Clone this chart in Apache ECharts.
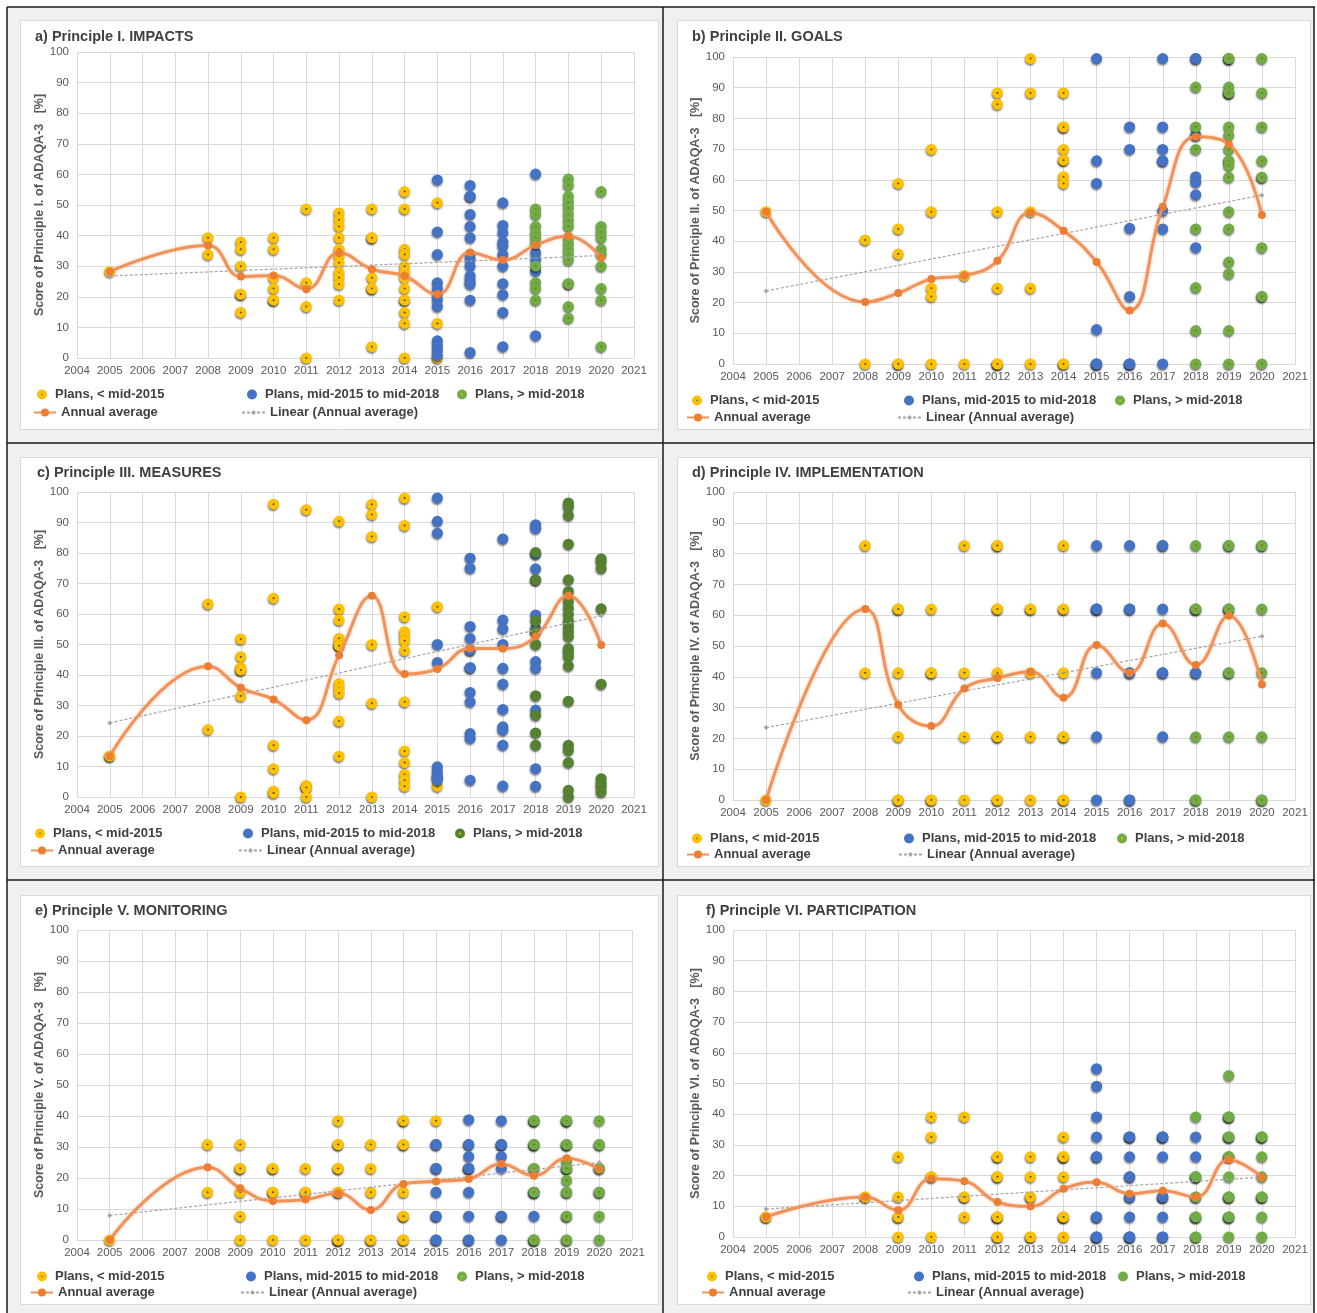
<!DOCTYPE html>
<html><head><meta charset="utf-8">
<script src="https://cdn.jsdelivr.net/npm/echarts@6/dist/echarts.min.js"></script>
<style>html,body{margin:0;padding:0;background:#fff}#c{width:1317px;height:1313px}</style>
</head><body><div id="c"></div>
<script>
// ---------- DATA ----------
const avgYears = [2005,2008,2009,2010,2011,2012,2013,2014,2015,2016,2017,2018,2019,2020];
const trendYears = [2005,2020];
const seriesNames = ['Plans, < mid-2015','Plans, mid-2015 to mid-2018','Plans, > mid-2018','Annual average','Linear (Annual average)'];

// a) IMPACTS
const aYellow = [[2005,28.2],[2008,39.3],[2008,33.8],
[2009,37.9],[2009,35.5],[2009,30],[2009,20.8],[2009,20.8],[2009,14.9],
[2010,39.3],[2010,35.5],[2010,26.2],[2010,22.7],[2010,18.9],[2010,18.9],
[2011,48.7],[2011,24.6],[2011,16.8],[2011,0],
[2012,47.4],[2012,45.2],[2012,43],[2012,39.3],[2012,35.5],[2012,33.3],[2012,31.1],[2012,27.9],[2012,26.2],[2012,24.1],[2012,18.9],
[2013,48.7],[2013,39.3],[2013,39.3],[2013,26.2],[2013,22.7],[2013,22.7],[2013,3.7],
[2014,54.4],[2014,48.7],[2014,35.5],[2014,33.8],[2014,30],[2014,27.9],[2014,26.2],[2014,22.7],[2014,18.9],[2014,18.9],[2014,14.9],[2014,11.3],[2014,0],
[2015,50.7],[2015,11.3],[2015,0]];
const aBlue = [[2015,58.2],[2015,41.2],[2015,33.8],[2015,24.6],[2015,22.7],[2015,20.8],[2015,18.9],[2015,16.8],[2015,5.6],[2015,4],[2015,2.4],[2015,0.8],
[2016,56.4],[2016,52.8],[2016,52.8],[2016,46.9],[2016,43],[2016,39.3],[2016,33.8],[2016,32.2],[2016,30],[2016,26.8],[2016,25.2],[2016,24.1],[2016,18.9],[2016,1.8],
[2017,50.7],[2017,43.3],[2017,40.9],[2017,37.9],[2017,36.6],[2017,33.8],[2017,30],[2017,24.3],[2017,20.7],[2017,14.9],[2017,3.7],
[2018,60.1],[2018,34.4],[2018,32.2],[2018,28.4],[2018,7.3]];
const aGreen = [[2018,48.7],[2018,46.9],[2018,43],[2018,40.9],[2018,39.3],[2018,37.4],[2018,30],[2018,24.6],[2018,22.7],[2018,18.9],
[2019,58.5],[2019,56.4],[2019,52.8],[2019,50.9],[2019,49],[2019,46.9],[2019,44.9],[2019,43],[2019,39.3],[2019,37.4],[2019,35.5],[2019,33.8],[2019,32],[2019,24.3],[2019,24.3],[2019,16.8],[2019,13],
[2020,54.4],[2020,43],[2020,41.2],[2020,39.3],[2020,35.5],[2020,33.8],[2020,30],[2020,22.7],[2020,18.9],[2020,3.7]];
const aAvg = [28.2,36.8,26.6,27,22.5,34.4,29,26.8,20.8,34.5,32,36.9,39.8,32.8];
const aTrend = [26.8,33.5];

// b) GOALS
const bYellow = [[2005,49.6],[2008,40.4],[2008,0],
[2009,58.8],[2009,44],[2009,35.8],[2009,0],[2009,0],
[2010,69.9],[2010,49.6],[2010,24.7],[2010,22],[2010,0],
[2011,28.8],[2011,0],
[2012,88.3],[2012,84.6],[2012,49.6],[2012,24.7],[2012,0],[2012,0],[2012,0],
[2013,99.5],[2013,88.3],[2013,49.6],[2013,24.7],[2013,0],
[2014,88.3],[2014,77.2],[2014,77.2],[2014,69.9],[2014,66.4],[2014,66.4],[2014,61],[2014,58.8],[2014,0],[2014,0]];
const bBlue = [[2015,99.5],[2015,66.2],[2015,58.8],[2015,11.2],[2015,0],[2015,0],[2015,0],
[2016,77.2],[2016,69.9],[2016,44.2],[2016,22],[2016,0],[2016,0],[2016,0],
[2017,99.5],[2017,77.2],[2017,69.9],[2017,66.2],[2017,66.2],[2017,49.9],[2017,44],[2017,0],
[2018,99.5],[2018,99.5],[2018,74.5],[2018,74.5],[2018,61],[2018,59.2],[2018,55.1],[2018,37.9]];
const bGreen = [[2018,90.2],[2018,77.2],[2018,69.9],[2018,44],[2018,24.9],[2018,10.9],[2018,0],
[2019,99.5],[2019,99.5],[2019,99.5],[2019,90.2],[2019,88.3],[2019,88.3],[2019,88.3],[2019,77.2],[2019,74.5],[2019,69.9],[2019,66.2],[2019,66.2],[2019,64.6],[2019,60.8],[2019,49.6],[2019,44],[2019,33.2],[2019,29.4],[2019,10.9],[2019,0],
[2020,99.5],[2020,88.3],[2020,77.2],[2020,66.2],[2020,60.8],[2020,60.8],[2020,37.9],[2020,22],[2020,22],[2020,0]];
const bAvg = [49.6,20.2,23.1,27.7,28.8,33.6,49.3,43.4,33.2,17.4,51.2,74,71.6,48.5];
const bTrend = [23.8,55];

// c) MEASURES
const cYellow = [[2005,13.4],[2005,13.4],[2008,63.3],[2008,22.1],
[2009,51.8],[2009,46],[2009,42.4],[2009,41.6],[2009,41.6],[2009,33.1],[2009,0],
[2010,96],[2010,65.2],[2010,17],[2010,9.3],[2010,1.9],[2010,1.3],
[2011,94.2],[2011,3.8],[2011,3.1],[2011,3.1],[2011,0],
[2012,90.4],[2012,61.6],[2012,58],[2012,52],[2012,50],[2012,49.6],[2012,49.6],[2012,37.2],[2012,35.6],[2012,34],[2012,24.9],[2012,13.4],
[2013,96],[2013,92.6],[2013,85.4],[2013,50],[2013,30.7],[2013,0],
[2014,98],[2014,89],[2014,59.1],[2014,54.2],[2014,52.8],[2014,51.2],[2014,48],[2014,31.2],[2014,15.1],[2014,11.3],[2014,7.4],[2014,5.5],[2014,3.5],
[2015,62.4],[2015,3.5]];
const cBlue = [[2015,98],[2015,90.4],[2015,86.5],[2015,50],[2015,44.1],[2015,9.9],[2015,8.2],[2015,6.6],[2015,6.6],[2015,5.5],
[2016,78.3],[2016,75],[2016,55.9],[2016,52],[2016,48.2],[2016,48.2],[2016,42.4],[2016,42.4],[2016,34.3],[2016,31.2],[2016,20.8],[2016,19.2],[2016,5.5],
[2017,84.6],[2017,58],[2017,55.1],[2017,50],[2017,42.2],[2017,37],[2017,28.7],[2017,23],[2017,21.9],[2017,17],[2017,3.6],
[2018,89.3],[2018,88],[2018,79.6],[2018,74.8],[2018,59.7],[2018,55.3],[2018,44.4],[2018,42.2],[2018,28.5],[2018,9.3],[2018,3.5]];
const cGreen = [[2018,80.2],[2018,71.2],[2018,71.2],[2018,57.8],[2018,54.2],[2018,54.2],[2018,50],[2018,33.2],[2018,26.8],[2018,21],[2018,17],
[2019,96.4],[2019,95],[2019,92.3],[2019,82.9],[2019,71.2],[2019,67.4],[2019,64.1],[2019,61.9],[2019,59.9],[2019,57.8],[2019,55.9],[2019,54.2],[2019,52.6],[2019,48.7],[2019,47.6],[2019,46],[2019,43],[2019,31.4],[2019,17],[2019,15.3],[2019,11.3],[2019,2.2],[2019,0],
[2020,78.1],[2020,77.2],[2020,75],[2020,61.7],[2020,37],[2020,6],[2020,4.4],[2020,3.3],[2020,1.6]];
const cAvg = [13.4,42.9,35.8,32,25.2,46.5,66,40.3,42,48.7,48.7,52.6,66,49.8];
const cTrend = [24.3,59.4];

// d) IMPLEMENTATION
const dYellow = [[2005,0],[2008,82.6],[2008,41.3],
[2009,62],[2009,62],[2009,41.3],[2009,20.5],[2009,0],[2009,0],
[2010,62],[2010,41.3],[2010,41.3],[2010,0],[2010,0],
[2011,82.6],[2011,41.3],[2011,20.5],[2011,0],
[2012,82.6],[2012,82.6],[2012,62],[2012,62],[2012,41.3],[2012,20.5],[2012,20.5],[2012,0],[2012,0],
[2013,62],[2013,62],[2013,41.3],[2013,20.5],[2013,0],
[2014,82.6],[2014,62],[2014,62],[2014,41.3],[2014,20.5],[2014,20.5],[2014,0],[2014,0]];
const dBlue = [[2015,82.6],[2015,62],[2015,62],[2015,62],[2015,41.3],[2015,20.5],[2015,0],
[2016,82.6],[2016,62],[2016,62],[2016,41.3],[2016,41.3],[2016,0],[2016,0],
[2017,82.6],[2017,82.6],[2017,62],[2017,41.3],[2017,41.3],[2017,20.5],
[2018,41.3],[2018,41.3]];
const dGreen = [[2018,82.6],[2018,62],[2018,62],[2018,62],[2018,20.5],[2018,0],[2018,0],
[2019,82.6],[2019,82.6],[2019,62],[2019,62],[2019,62],[2019,41.3],[2019,41.3],[2019,20.5],
[2020,82.6],[2020,82.6],[2020,62],[2020,41.3],[2020,20.5],[2020,0],[2020,0]];
const dAvg = [0,62,30.9,24,36.2,39.6,41.6,33.2,50.3,41.3,57.3,43.8,59.8,37.5];
const dTrend = [23.5,53.2];

// e) MONITORING
const eYellow = [[2005,0],[2008,30.8],[2008,15.4],
[2009,30.8],[2009,23.1],[2009,23.1],[2009,15.4],[2009,7.7],[2009,0],
[2010,23.1],[2010,23.1],[2010,15.4],[2010,15.4],[2010,0],
[2011,23.1],[2011,15.4],[2011,15.4],[2011,0],
[2012,38.5],[2012,30.8],[2012,30.8],[2012,23.1],[2012,23.1],[2012,15.4],[2012,15.4],[2012,0],[2012,0],[2012,0],
[2013,30.8],[2013,23.1],[2013,15.4],[2013,0],[2013,0],
[2014,38.5],[2014,38.5],[2014,30.8],[2014,30.8],[2014,15.4],[2014,7.7],[2014,7.7],[2014,0],[2014,0],
[2015,38.5]];
const eBlue = [[2015,30.8],[2015,30.8],[2015,23.1],[2015,23.1],[2015,15.4],[2015,7.7],[2015,7.7],[2015,0],[2015,0],
[2016,38.8],[2016,30.8],[2016,30.8],[2016,26.9],[2016,23.1],[2016,23.1],[2016,23.1],[2016,15.4],[2016,7.7],[2016,0],[2016,0],
[2017,38.5],[2017,30.8],[2017,30.8],[2017,30.8],[2017,26.9],[2017,23.1],[2017,7.7],[2017,7.7],[2017,0],
[2018,15.4],[2018,15.4],[2018,7.7]];
const eGreen = [[2018,38.5],[2018,38.5],[2018,38.5],[2018,30.8],[2018,30.8],[2018,30.8],[2018,23.1],[2018,23.1],[2018,15.4],[2018,0],[2018,0],[2018,0],
[2019,38.5],[2019,38.5],[2019,38.5],[2019,30.8],[2019,30.8],[2019,30.8],[2019,25.4],[2019,23.1],[2019,23.1],[2019,23.1],[2019,19.2],[2019,15.4],[2019,15.4],[2019,7.7],[2019,7.7],[2019,0],[2019,0],
[2020,38.5],[2020,30.8],[2020,30.8],[2020,23.1],[2020,23.1],[2020,15.4],[2020,15.4],[2020,7.7],[2020,0]];
const eAvg = [0,23.5,16.7,12.6,13.1,15.1,9.7,18.1,18.9,19.7,24.5,20.7,26.4,22.8];
const eTrend = [7.9,25];

// f) PARTICIPATION
const fYellow = [[2005,6.5],[2005,6.5],[2008,13],[2008,13],
[2009,26.1],[2009,13],[2009,6.5],[2009,6.5],[2009,0],
[2010,39.1],[2010,32.6],[2010,19.6],[2010,19.6],[2010,0],
[2011,39.1],[2011,13],[2011,13],[2011,6.5],
[2012,26.1],[2012,26.1],[2012,19.6],[2012,19.6],[2012,6.5],[2012,6.5],[2012,6.5],[2012,0],[2012,0],
[2013,26.1],[2013,19.6],[2013,13],[2013,13],[2013,0],[2013,0],
[2014,32.6],[2014,26.1],[2014,26.1],[2014,26.1],[2014,19.6],[2014,6.5],[2014,6.5],[2014,6.5],[2014,0]];
const fBlue = [[2015,54.8],[2015,49.1],[2015,39.1],[2015,32.6],[2015,26.1],[2015,26.1],[2015,6.5],[2015,6.5],[2015,0],[2015,0],[2015,0],
[2016,32.6],[2016,32.6],[2016,32.6],[2016,26.1],[2016,19.6],[2016,19.6],[2016,13],[2016,13],[2016,6.5],[2016,0],[2016,0],[2016,0],
[2017,32.6],[2017,32.6],[2017,32.6],[2017,26.1],[2017,13],[2017,13],[2017,13],[2017,6.5],[2017,0],[2017,0],
[2018,32.6],[2018,26.1]];
const fGreen = [[2018,39.1],[2018,19.6],[2018,19.6],[2018,19.6],[2018,13],[2018,13],[2018,6.5],[2018,6.5],[2018,6.5],[2018,0],[2018,0],
[2019,52.6],[2019,39.1],[2019,39.1],[2019,39.1],[2019,32.6],[2019,32.6],[2019,32.6],[2019,26.1],[2019,26.1],[2019,26.1],[2019,19.6],[2019,13],[2019,13],[2019,13],[2019,6.5],[2019,6.5],[2019,6.5],[2019,0],
[2020,32.6],[2020,32.6],[2020,32.6],[2020,26.1],[2020,19.6],[2020,13],[2020,13],[2020,13],[2020,6.5],[2020,0]];
const fAvg = [6.5,13,8.7,19,18.2,11.4,10,15.7,17.8,14.1,15.1,13,25.2,19.5];
const fTrend = [9.1,19.5];

// ---------- LAYOUT ----------
const FONT = '"Liberation Sans", Arial, sans-serif';
const YELLOW = '#ffc000', BLUE = '#4472c4', GREEN = '#70ad47', ORANGE = '#ed7d31';
const panels = [
 {key:'a', title:'a) Principle I. IMPACTS', yName:'Score of Principle I. of ADAQA-3   [%]',
  data:[aYellow,aBlue,aGreen,aAvg,aTrend], grid:{left:77,top:52,width:557,height:306}, tPos:[35,29],
  r1:[393,44,254,464], r2:[411,33,241], green:GREEN, greenDot:true},
 {key:'b', title:'b) Principle II. GOALS', yName:'Score of Principle II. of ADAQA-3   [%]',
  data:[bYellow,bBlue,bGreen,bAvg,bTrend], grid:{left:733,top:57,width:562,height:307}, tPos:[692,29],
  r1:[399,699,911,1122], r2:[416,686,897], green:GREEN, greenDot:true},
 {key:'c', title:'c) Principle III. MEASURES', yName:'Score of Principle III. of ADAQA-3   [%]',
  data:[cYellow,cBlue,cGreen,cAvg,cTrend], grid:{left:77,top:492,width:557,height:305}, tPos:[37,465],
  r1:[832,42,250,462], r2:[849,30,238], green:'#548235', greenDot:true},
 {key:'d', title:'d) Principle IV. IMPLEMENTATION', yName:'Score of Principle IV. of ADAQA-3   [%]',
  data:[dYellow,dBlue,dGreen,dAvg,dTrend], grid:{left:733,top:492,width:562,height:308}, tPos:[692,465],
  r1:[837,699,911,1124], r2:[853,686,898], green:GREEN, greenDot:true},
 {key:'e', title:'e) Principle V. MONITORING', yName:'Score of Principle V. of ADAQA-3   [%]',
  data:[eYellow,eBlue,eGreen,eAvg,eTrend], grid:{left:77,top:930,width:555,height:310}, tPos:[35,903],
  r1:[1275,44,253,464], r2:[1291,30,240], green:GREEN, greenDot:true},
 {key:'f', title:'f) Principle VI. PARTICIPATION', yName:'Score of Principle VI. of ADAQA-3   [%]',
  data:[fYellow,fBlue,fGreen,fAvg,fTrend], grid:{left:733,top:930,width:562,height:307}, tPos:[706,903],
  r1:[1275,714,921,1125], r2:[1291,701,907], green:GREEN, greenDot:false}
];

const shadow = {opacity:1, shadowColor:'rgba(0,0,0,0.5)', shadowBlur:2, shadowOffsetX:-0.5, shadowOffsetY:1.5};
const option = {animation:false, textStyle:{fontFamily:FONT},
  title:[], grid:[], xAxis:[], yAxis:[], series:[], legend:[], graphic:[]};

// background frame & cards
const g = [];
g.push({type:'rect', z:-100, shape:{x:7,y:7,width:1308,height:1306}, style:{fill:'#f0f0f0'}});
[[20,20],[677,20],[20,457],[677,457],[20,895],[677,895]].forEach(p=>{
  g.push({type:'rect', z:-99, shape:{x:p[0]+0.5,y:p[1]+0.5,width:(p[0]<600?638:633),height:409}, style:{fill:'#fff',stroke:'#d9d9d9',lineWidth:1}});
});
const ln = (x1,y1,x2,y2)=>({type:'line', z:-98, shape:{x1,y1,x2,y2}, style:{stroke:'#1a1a1a',lineWidth:1.5}});
g.push(ln(7,7,1315,7), ln(7,7,7,1313), ln(1314,7,1314,1313), ln(663,7,663,1313), ln(7,443,1315,443), ln(7,880,1315,880));
option.graphic = g;

const fmt = n => n.split('|')[1];
panels.forEach((p,i)=>{
  const [yel, blu, grn, avg, trend] = p.data;
  option.title.push({text:p.title, left:p.tPos[0], top:p.tPos[1], padding:0,
    textStyle:{fontFamily:FONT, fontSize:14.5, fontWeight:'bold', color:'#404040'}});
  option.grid.push(p.grid);
  option.xAxis.push({type:'value', gridIndex:i, min:2004, max:2021, interval:1,
    axisLine:{show:true, lineStyle:{color:'#d9d9d9'}}, axisTick:{show:false},
    splitLine:{show:true, lineStyle:{color:'#d9d9d9', width:1}},
    axisLabel:{color:'#595959', fontSize:11.5, margin:7, formatter:v=>String(v)}});
  option.yAxis.push({type:'value', gridIndex:i, min:0, max:100, interval:10,
    name:p.yName, nameLocation:'middle', nameGap:30, nameRotate:90,
    nameTextStyle:{color:'#595959', fontSize:12.5, fontWeight:'bold', fontFamily:FONT},
    axisLine:{show:false}, axisTick:{show:false},
    splitLine:{show:true, lineStyle:{color:'#d9d9d9', width:1}},
    axisLabel:{color:'#595959', fontSize:11.5, margin:8}});
  const nm = seriesNames.map(s=>p.key+'|'+s);
  const greenStyle = p.greenDot ? {color:YELLOW, borderColor:p.green, borderWidth:4.5, ...shadow}
                                : {color:p.green, borderWidth:0, ...shadow};
  option.series.push(
    {type:'scatter', name:nm[0], xAxisIndex:i, yAxisIndex:i, data:yel, symbolSize:6.5,
     itemStyle:{color:'#5a9e32', borderColor:YELLOW, borderWidth:4.5, ...shadow}, z:2},
    {type:'scatter', name:nm[1], xAxisIndex:i, yAxisIndex:i, data:blu, symbolSize:11,
     itemStyle:{color:BLUE, borderWidth:0, ...shadow}, z:2},
    {type:'scatter', name:nm[2], xAxisIndex:i, yAxisIndex:i, data:grn, symbolSize:p.greenDot?6.5:11,
     itemStyle:greenStyle, z:2},
    {type:'line', name:nm[3], xAxisIndex:i, yAxisIndex:i, data:avgYears.map((y,k)=>[y,avg[k]]),
     smooth:0.45, symbol:'circle', symbolSize:8, itemStyle:{color:ORANGE},
     lineStyle:{color:'#f0925a', width:3, shadowColor:'rgba(237,125,49,0.5)', shadowBlur:3}, z:4},
    {type:'line', name:nm[4], xAxisIndex:i, yAxisIndex:i, data:trendYears.map((y,k)=>[y,trend[k]]),
     symbol:'diamond', symbolSize:5, itemStyle:{color:'#a5a5a5'},
     lineStyle:{color:'#a5a5a5', width:1.2, type:[3,2]}, z:3}
  );
  const lt = {fontFamily:FONT, fontSize:13, fontWeight:'bold', color:'#404040'};
  const base = {padding:0, formatter:fmt, textStyle:lt, selectedMode:false};
  option.legend.push(
    {...base, data:[nm[0]], left:p.r1[1]-7, top:p.r1[0]-5, itemWidth:16, itemHeight:6,
     itemStyle:{color:'#5a9e32', borderColor:YELLOW, borderWidth:4, opacity:1}},
    {...base, data:[nm[1]], left:p.r1[2]-7, top:p.r1[0]-5, itemWidth:16, itemHeight:10,
     itemStyle:{color:BLUE, borderWidth:0, opacity:1}},
    {...base, data:[nm[2]], left:p.r1[3]-7, top:p.r1[0]-5, itemWidth:16, itemHeight:p.greenDot?6:10,
     itemStyle:p.greenDot?{color:YELLOW, borderColor:p.green, borderWidth:4, opacity:1}:{color:p.green,borderWidth:0,opacity:1}},
    {...base, data:[nm[3]], left:p.r2[1], top:p.r2[0]-5, itemWidth:22, itemHeight:10},
    {...base, data:[nm[4]], left:p.r2[2], top:p.r2[0]-5, itemWidth:23, itemHeight:6}
  );
});

const chart = echarts.init(document.getElementById('c'), null, {renderer:'canvas'});
chart.setOption(option);
</script></body></html>
